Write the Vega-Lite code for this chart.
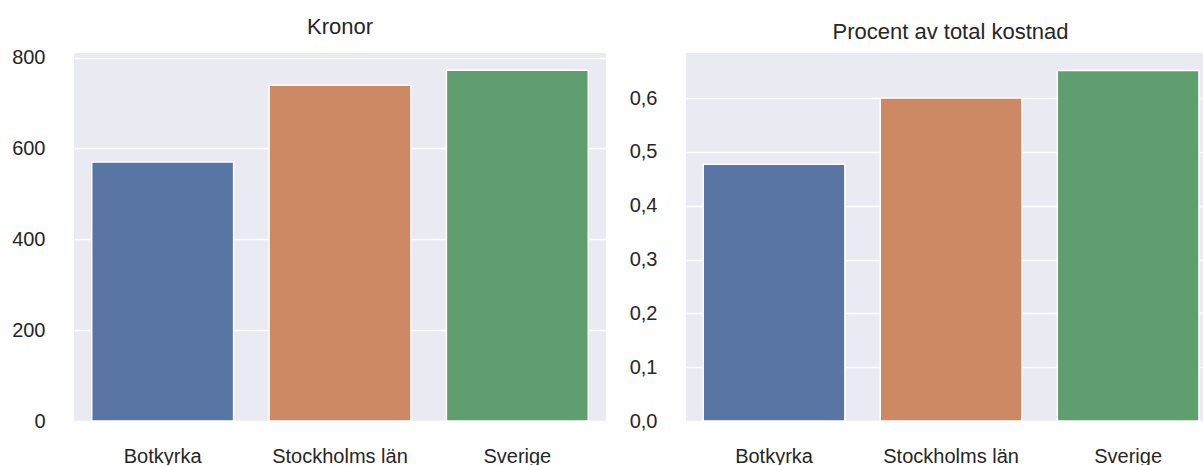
{
  "$schema": "https://vega.github.io/schema/vega-lite/v6.json",
  "padding": {"left": 11, "top": 15, "right": 0, "bottom": 0},
  "background": "white",
  "spacing": 23,
  "data": {"values": [
    {"region": "Botkyrka", "kronor": 570, "procent": 0.477},
    {"region": "Stockholms län", "kronor": 739, "procent": 0.600},
    {"region": "Sverige", "kronor": 772, "procent": 0.651}
  ]},
  "config": {
    "font": "Liberation Sans",
    "view": {"fill": "#eaeaf2", "stroke": null},
    "axis": {
      "labelFont": "Liberation Sans", "labelFontSize": 20, "labelColor": "#262626",
      "ticks": false, "domain": false, "title": null,
      "gridColor": "white", "gridWidth": 1.6
    },
    "title": {"font": "Liberation Sans", "fontSize": 22, "fontWeight": "normal", "color": "#262626", "offset": 9}
  },
  "hconcat": [
    {
      "title": "Kronor",
      "width": 532, "height": 368,
      "mark": {"type": "bar", "stroke": "white", "strokeWidth": 1.5},
      "encoding": {
        "x": {"field": "region", "type": "nominal", "sort": null,
              "scale": {"paddingInner": 0.2, "paddingOuter": 0.1},
              "axis": {"labelAngle": 0, "labelPadding": 25, "grid": false}},
        "y": {"field": "kronor", "type": "quantitative",
              "scale": {"domain": [0, 810], "nice": false, "zero": true},
              "axis": {"values": [0, 200, 400, 600, 800], "labelPadding": 29, "grid": true}},
        "color": {"field": "region", "type": "nominal", "sort": null, "legend": null,
                  "scale": {"range": ["#5975a4", "#cc8963", "#5f9e6e"]}}
      }
    },
    {
      "title": {"text": "Procent av total kostnad", "dx": 6},
      "width": 517, "height": 368,
      "mark": {"type": "bar", "stroke": "white", "strokeWidth": 1.5},
      "encoding": {
        "x": {"field": "region", "type": "nominal", "sort": null,
              "scale": {"paddingInner": 0.2, "paddingOuter": 0.06, "align": 0.81},
              "axis": {"labelAngle": 0, "labelPadding": 25, "grid": false}},
        "y": {"field": "procent", "type": "quantitative",
              "scale": {"domain": [0, 0.6836], "nice": false, "zero": true},
              "axis": {"values": [0, 0.1, 0.2, 0.3, 0.4, 0.5, 0.6], "labelPadding": 29, "grid": true,
                       "labelExpr": "replace(format(datum.value, '.1f'), '.', ',')"}},
        "color": {"field": "region", "type": "nominal", "sort": null, "legend": null,
                  "scale": {"range": ["#5975a4", "#cc8963", "#5f9e6e"]}}
      }
    }
  ]
}
